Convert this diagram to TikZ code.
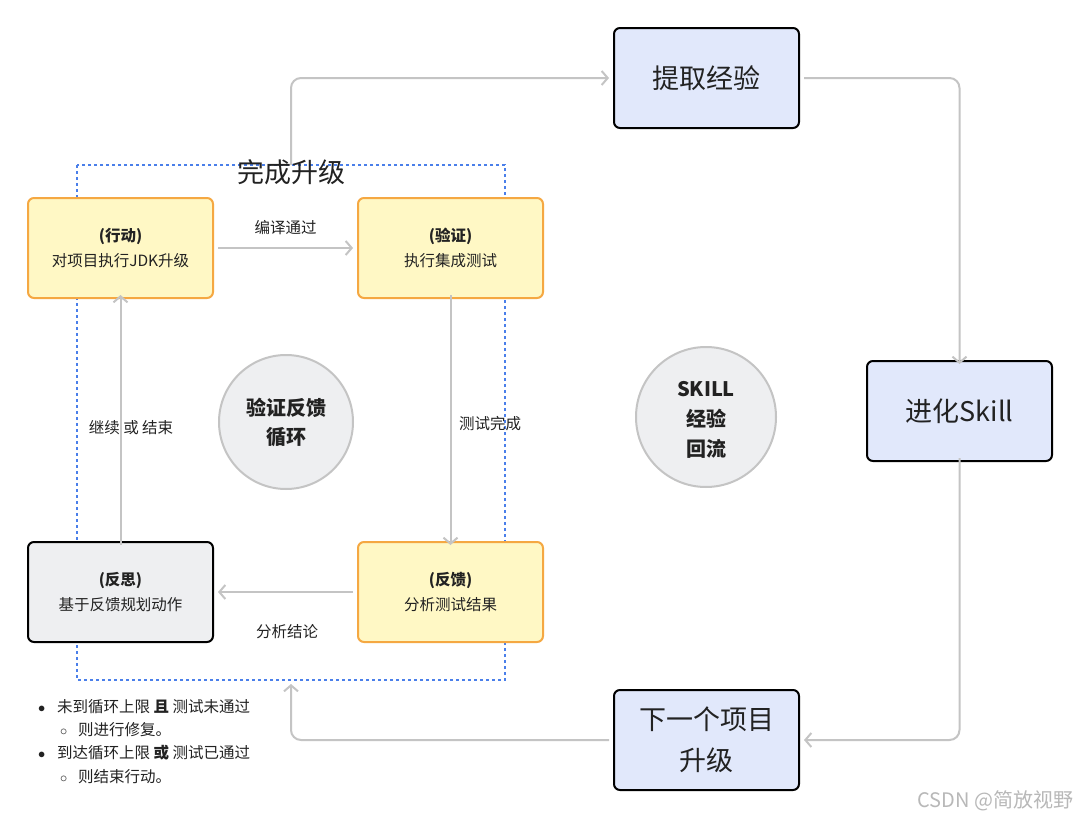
\documentclass[tikz,border=0pt]{standalone}
\usepackage{fontspec}
\setmainfont{Noto Sans CJK SC}
\usetikzlibrary{arrows.meta}

\definecolor{stepfill}{HTML}{FFF8C5}
\definecolor{stepedge}{HTML}{F5A842}
\definecolor{thinkfill}{HTML}{EEEFF1}
\definecolor{skillfill}{HTML}{E1E8FB}
\definecolor{flowgray}{HTML}{C4C4C4}
\definecolor{loopblue}{HTML}{4A7FEA}
\definecolor{textdark}{HTML}{222222}

\begin{document}
\begin{tikzpicture}[x=1pt,y=-1pt]
    % Styles
    \tikzstyle{loop step} = [rectangle,rounded corners=6pt,draw=stepedge,line width=2pt,
        fill=stepfill,minimum width=185pt,minimum height=100pt,align=center,
        font=\fontsize{15.5}{25}\selectfont,text=textdark]
    \tikzstyle{think step} = [loop step,draw=black,fill=thinkfill]
    \tikzstyle{skill step} = [rectangle,rounded corners=6pt,draw=black,line width=2pt,
        fill=skillfill,minimum width=185pt,minimum height=100pt,align=center,
        font=\fontsize{27}{41}\selectfont,text=textdark]
    \tikzstyle{hub} = [circle,draw=flowgray,line width=2pt,fill=thinkfill,align=center,
        font=\fontsize{20}{29}\bfseries,text=textdark]
    \tikzstyle{flow} = [draw=flowgray,line width=2pt,rounded corners=10pt,
        -{Straight Barb[length=6pt,width=14pt,line width=2pt]}]
    \tikzstyle{flow label} = [font=\fontsize{15.5}{18}\selectfont,text=textdark]

    \useasboundingbox[fill=white] (0,0) rectangle (1080,819);

    %%% Verification loop
    \draw[loopblue,line width=2pt,dash pattern=on 3pt off 3pt] (77,165) rectangle (505,680);
    \node[font=\fontsize{27}{30}\selectfont,text=textdark] (done) at (291,172) {完成升级};
    \coordinate (done top) at (291,165);
    \coordinate (loop bottom) at (291,684);

    \node[loop step] (act) at (120.5,248) {\textbf{(行动)}\\对项目执行JDK升级};
    \node[loop step] (verify) at (450.5,248) {\textbf{(验证)}\\执行集成测试};
    \node[loop step] (feedback) at (450.5,592) {\textbf{(反馈)}\\分析测试结果};
    \node[think step] (reflect) at (120.5,592) {\textbf{(反思)}\\基于反馈规划动作};

    \node[hub,minimum size=134pt] (loop hub) at (286,422) {验证反馈\\循环};

    \draw[flow] ([xshift=4pt]act.east) -- node[flow label,above=9pt]{编译通过} ([xshift=-4pt]verify.west);
    \draw[flow] ([yshift=4pt]verify.south) -- ([yshift=-4pt]feedback.north);
    \node[flow label] (verify done) at (490,424) {测试完成};
    \draw[flow] ([xshift=-4pt]feedback.west) -- ([xshift=4pt]reflect.east);
    \node[flow label] (conclusion) at (287,632) {分析结论};
    \draw[flow] ([yshift=-4pt]reflect.north) -- ([yshift=4pt]act.south);
    \node[flow label] (go on) at (131,428) {继续 或 结束};
    %%%

    %%% Skill backflow
    \node[skill step] (extract) at (706.5,78) {提取经验};
    \node[skill step] (evolve) at (959.5,411) {进化Skill};
    \node[skill step] (next) at (706.5,740) {下一个项目\\升级};

    \node[hub,minimum size=140pt,font=\fontsize{20}{30}\bfseries] (skill hub) at (706,417) {};
    \node[align=center,font=\fontsize{20}{30}\bfseries,text=textdark] (skill text) at (706,420) {SKILL\\经验\\回流};

    \draw[flow] (done top) |- ([xshift=-4pt]extract.west);
    \draw[flow] ([xshift=4pt]extract.east) -| ([yshift=-4pt]evolve.north);
    \draw[flow] ([yshift=4pt]evolve.south) |- ([xshift=4pt]next.east);
    \draw[flow] ([xshift=-4pt]next.west) -| (loop bottom);
    %%%

    %%% Notes
    \node[anchor=north west,align=left,font=\fontsize{15.5}{23.3}\selectfont,text=textdark,inner sep=0pt] (notes) at (34,699)
    {
        \makebox[23pt][l]{\hspace{4pt}$\bullet$}未到循环上限 \textbf{且} 测试未通过\\
        \hspace*{23pt}\makebox[21pt][l]{\hspace{3pt}$\circ$}则进行修复。\\
        \makebox[23pt][l]{\hspace{4pt}$\bullet$}到达循环上限 \textbf{或} 测试已通过\\
        \hspace*{23pt}\makebox[21pt][l]{\hspace{3pt}$\circ$}则结束行动。
    };
    \node[anchor=east,font=\fontsize{20}{22}\selectfont,text=black!28] (mark) at (1077,801) {CSDN @简放视野};
    %%%
\end{tikzpicture}
\end{document}
